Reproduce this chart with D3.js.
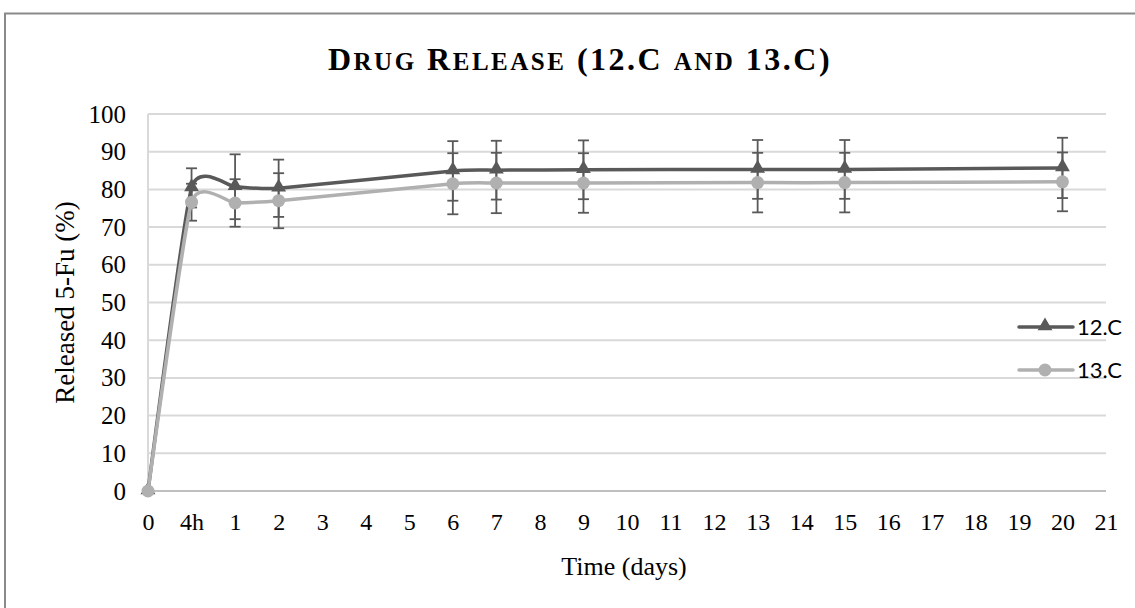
<!DOCTYPE html>
<html>
<head>
<meta charset="utf-8">
<script src="https://cdn.jsdelivr.net/npm/d3@7"></script>
<style>
  html, body { margin: 0; padding: 0; background: #ffffff; }
  svg { display: block; }
</style>
</head>
<body>
<svg id="chart" width="1135" height="608"></svg>
<script>
// ---- Data ----
const categories = ["0","4h","1","2","3","4","5","6","7","8","9","10","11","12","13","14","15","16","17","18","19","20","21"];
const sampleTimes = ["0","4h","1","2","6","7","9","13","15","20"];
const values12C = [0, 80.4, 80.7, 80.3, 84.9, 85.1, 85.2, 85.3, 85.3, 85.7];
const errors12C = [0, 5.2, 8.6, 7.6, 7.9, 7.8, 7.8, 7.8, 7.8, 8.0];
const values13C = [0, 76.6, 76.4, 77.0, 81.5, 81.7, 81.7, 81.8, 81.8, 82.0];
const errors13C = [0, 4.9, 6.3, 7.3, 8.1, 8.0, 7.9, 7.9, 7.9, 7.8];
const yTicks = [0, 10, 20, 30, 40, 50, 60, 70, 80, 90, 100];
const seriesNames = ["12.C", "13.C"];

const title = "Drug Release (12.C and 13.C)";
const xTitle = "Time (days)";
const yTitle = "Released 5-Fu (%)";

// ---- Layout ----
const svg = d3.select("#chart");
const plot = { left: 148, right: 1106, top: 114, bottom: 491 };

const x = d3.scalePoint().domain(categories).range([plot.left, plot.right]);
const y = d3.scaleLinear().domain([0, 100]).range([plot.bottom, plot.top]);

const serif = "'Liberation Serif', 'Times New Roman', serif";

// outer border
svg.append("rect")
  .attr("x", 5).attr("y", 13.5)
  .attr("width", 1160).attr("height", 640)
  .attr("fill", "none")
  .attr("stroke", "#8a8a8a")
  .attr("stroke-width", 2);

// title (small caps: capitals at full size, lowercase runs rendered as small caps)
const titleText = svg.append("text")
  .attr("x", 580).attr("y", 70)
  .attr("text-anchor", "middle")
  .style("font-family", serif)
  .style("font-weight", "bold")
  .style("font-variant", "small-caps")
  .style("letter-spacing", "2.5px")
  .attr("fill", "#000");
const runs = title.match(/[a-z]+|[^a-z]+/g);
runs.forEach(r => {
  titleText.append("tspan")
    .style("font-size", /[a-z]/.test(r) ? "36px" : "32px")
    .text(r);
});

// gridlines
const grid = svg.append("g");
grid.selectAll("line")
  .data(yTicks)
  .enter().append("line")
  .attr("x1", plot.left).attr("x2", plot.right)
  .attr("y1", d => y(d)).attr("y2", d => y(d))
  .attr("stroke", d => d === 0 ? "#bfbfbf" : "#d9d9d9")
  .attr("stroke-width", 2);

// vertical axis line
svg.append("line")
  .attr("x1", plot.left).attr("x2", plot.left)
  .attr("y1", y(100)).attr("y2", y(0))
  .attr("stroke", "#d9d9d9").attr("stroke-width", 2);

// y axis labels
const yAxis = d3.axisLeft(y).tickValues(yTicks).tickSize(0).tickPadding(22);
const gy = svg.append("g").attr("transform", `translate(${plot.left},0)`).call(yAxis);
gy.select(".domain").remove();
gy.selectAll("text")
  .style("font-family", serif)
  .style("font-size", "25px")
  .attr("fill", "#000");

// x axis labels
const xAxis = d3.axisBottom(x).tickSize(0).tickPadding(22);
const gx = svg.append("g").attr("transform", `translate(0,${plot.bottom})`).call(xAxis);
gx.select(".domain").remove();
gx.selectAll("text")
  .style("font-family", serif)
  .style("font-size", "24px")
  .attr("fill", "#000");

// axis titles
svg.append("text")
  .attr("x", 624).attr("y", 575)
  .attr("text-anchor", "middle")
  .style("font-family", serif)
  .style("font-size", "26px")
  .attr("fill", "#000")
  .text(xTitle);

svg.append("text")
  .attr("transform", `translate(74,${(plot.top + plot.bottom) / 2}) rotate(-90)`)
  .attr("text-anchor", "middle")
  .style("font-family", serif)
  .style("font-size", "27px")
  .attr("fill", "#000")
  .text(yTitle);

// series
const series = [
  { name: seriesNames[0], values: values12C, errors: errors12C, color: "#595959", marker: "triangle" },
  { name: seriesNames[1], values: values13C, errors: errors13C, color: "#b0b0b0", marker: "circle" }
];

const line = d3.line()
  .x(d => x(d.t))
  .y(d => y(d.v))
  .curve(d3.curveCardinal.tension(0.5));

const triSym = d3.symbol().type(d3.symbolTriangle).size(95);

// error bars
series.forEach(s => {
  const pts = sampleTimes.map((t, i) => ({ t, v: s.values[i], e: s.errors[i] })).filter(p => p.e > 0);
  const g = svg.append("g").attr("stroke", "#595959").attr("stroke-width", 1.8);
  g.selectAll(".v").data(pts).enter().append("line")
    .attr("x1", d => x(d.t)).attr("x2", d => x(d.t))
    .attr("y1", d => y(d.v + d.e)).attr("y2", d => y(d.v - d.e));
  g.selectAll(".t").data(pts).enter().append("line")
    .attr("x1", d => x(d.t) - 5.5).attr("x2", d => x(d.t) + 5.5)
    .attr("y1", d => y(d.v + d.e)).attr("y2", d => y(d.v + d.e));
  g.selectAll(".b").data(pts).enter().append("line")
    .attr("x1", d => x(d.t) - 5.5).attr("x2", d => x(d.t) + 5.5)
    .attr("y1", d => y(d.v - d.e)).attr("y2", d => y(d.v - d.e));
});

// lines and markers
series.forEach(s => {
  const pts = sampleTimes.map((t, i) => ({ t, v: s.values[i] }));
  svg.append("path")
    .datum(pts)
    .attr("d", line)
    .attr("fill", "none")
    .attr("stroke", s.color)
    .attr("stroke-width", 3.5)
    .attr("stroke-linejoin", "round");
  const g = svg.append("g");
  if (s.marker === "triangle") {
    g.selectAll("path").data(pts).enter().append("path")
      .attr("d", triSym)
      .attr("transform", d => `translate(${x(d.t)},${y(d.v) - 1})`)
      .attr("fill", s.color);
  } else {
    g.selectAll("circle").data(pts).enter().append("circle")
      .attr("cx", d => x(d.t)).attr("cy", d => y(d.v))
      .attr("r", 6.5)
      .attr("fill", s.color);
  }
});

// legend
const legendY = [327, 370];
series.forEach((s, i) => {
  const g = svg.append("g");
  g.append("line")
    .attr("x1", 1019).attr("x2", 1073)
    .attr("y1", legendY[i]).attr("y2", legendY[i])
    .attr("stroke", s.color).attr("stroke-width", 3.5)
    .attr("stroke-linecap", "round");
  if (s.marker === "triangle") {
    g.append("path").attr("d", triSym)
      .attr("transform", `translate(1045,${legendY[i] - 1})`)
      .attr("fill", s.color);
  } else {
    g.append("circle").attr("cx", 1045).attr("cy", legendY[i]).attr("r", 6.5).attr("fill", s.color);
  }
  g.append("text")
    .attr("x", 1077).attr("y", legendY[i] + 8)
    .style("font-family", "Lato, 'Open Sans', sans-serif")
    .style("font-size", "22px")
    .attr("fill", "#000")
    .text(s.name);
});
</script>
</body>
</html>
